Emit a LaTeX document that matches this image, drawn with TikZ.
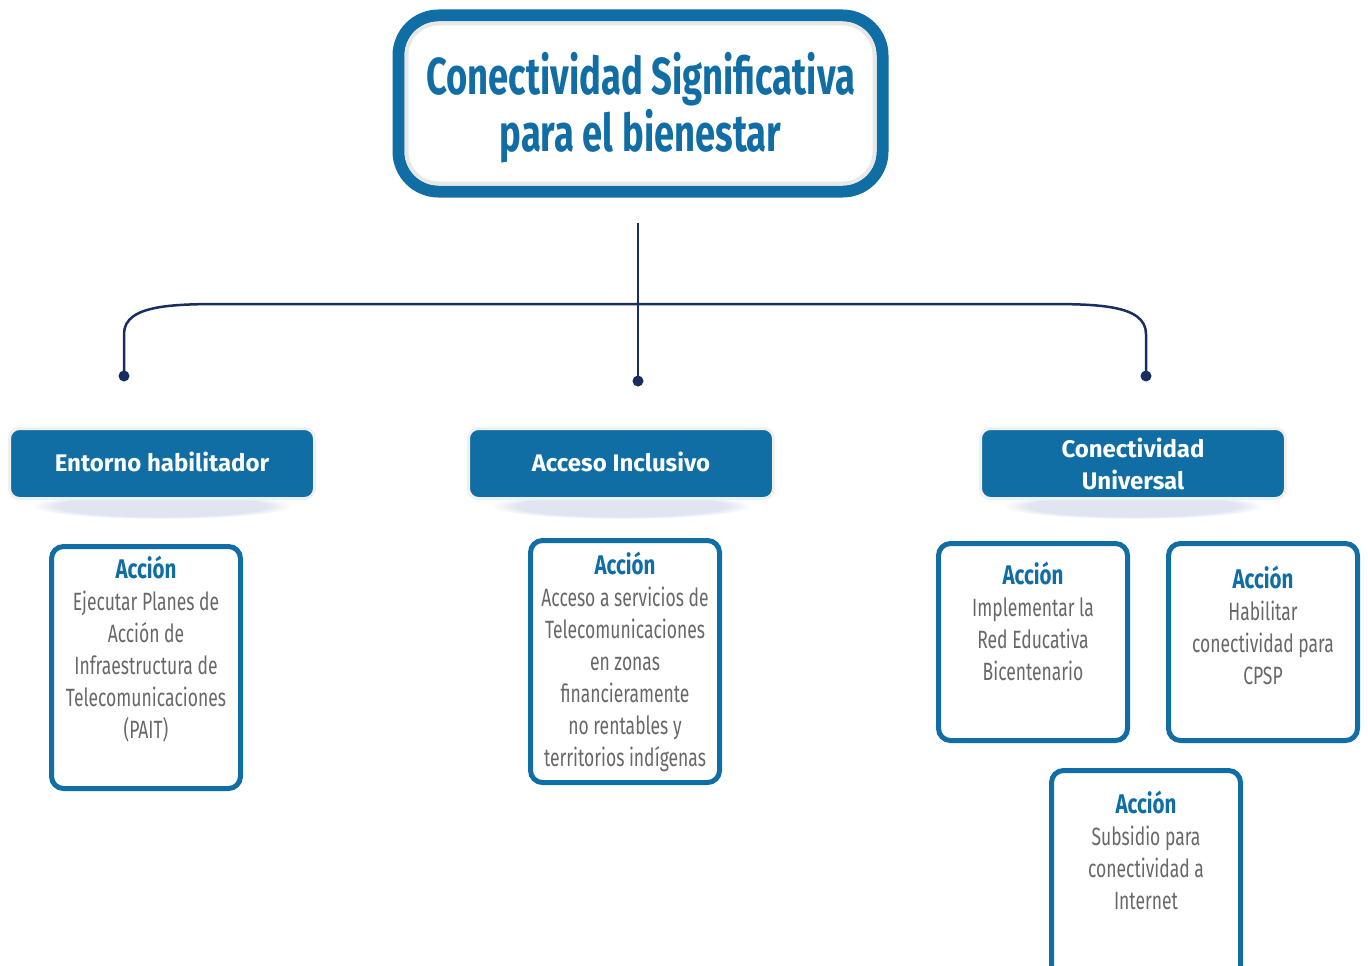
\documentclass[tikz,border=0pt]{standalone}
\usepackage{fontspec}
\setmainfont{Fira Sans}
\newfontfamily\condfont[FakeStretch=0.70]{Fira Sans}
\newfontfamily\headfont[FakeStretch=0.76]{Fira Sans}
\usepackage{tikz}
\usetikzlibrary{positioning, calc, fadings}
\definecolor{figBlue}{RGB}{16,110,165}
\definecolor{figNavy}{RGB}{24,46,96}
\definecolor{figGray}{RGB}{104,104,104}
\definecolor{figShade}{RGB}{165,180,215}
\newcommand{\acthead}{\headfont\bfseries\color{figBlue}\fontsize{27}{32}\selectfont}
\tikzset{
  titlebox/.style={draw=figBlue, line width=12pt, rounded corners=40pt, fill=white,
    minimum width=484pt, minimum height=176pt},
  titletext/.style={text=figBlue, align=center,
    font=\condfont\bfseries\fontsize{52}{57}\selectfont},
  catbox/.style={fill=figBlue, draw=gray!12, line width=3pt, rounded corners=10pt,
    minimum width=305pt, minimum height=70pt, text=white, align=center,
    font=\bfseries\fontsize{24}{32}\selectfont},
  actbox/.style={draw=figBlue, line width=5pt, rounded corners=12pt, fill=white,
    minimum width=189pt},
  acttext/.style={text=figGray, align=center, inner sep=0pt,
    font=\condfont\fontsize{25}{32}\selectfont},
  branch/.style={figNavy, line width=2.5pt},
  joint/.style={circle, fill=figNavy, inner sep=0pt, minimum size=11pt}
}
\begin{document}
\begin{tikzpicture}[x=1pt, y=-1pt]
\useasboundingbox (0,0) rectangle (1368,966);
% title
\node[titlebox] (title) at (640.5,103.5) {};
\draw[gray!18, line width=4pt, rounded corners=32pt]
  ($(title.south west)+(14,-14)$) rectangle ($(title.north east)+(-14,14)$);
\node[titletext] (titlelabel) at ($(title)+(0,4)$) {Conectividad Significativa\\para el bienestar};
% soft shadows under the pillars
\foreach \cx in {162,621,1133}
  \fill[figShade, opacity=.35, path fading=circle with fuzzy edge 20 percent]
    (\cx,506) ellipse (130pt and 13pt);
% pillars
\node[catbox, text height=22pt, text depth=7pt] (entorno) at (162,463.5) {Entorno habilitador};
\node[catbox, text height=22pt, text depth=7pt] (acceso) at (621,463.5) {Acceso Inclusivo};
\node[catbox] (universal) at (1133,463.5) {Conectividad\\Universal};
% branching connector
\node[joint] (j1) at (124,376) {};
\node[joint] (j2) at (638,381) {};
\node[joint] (j3) at (1146,376) {};
\coordinate (stem) at ($(title.south)+(-2.5,25)$);
\coordinate (hl) at (230,304);
\coordinate (hr) at (1040,304);
\draw[branch] (stem) -- (j2.center);
\draw[branch] (j1.center) -- ($(j1)+(0,-42)$) .. controls ($(j1)+(0,-72)$) and ($(hl)+(-55,0)$) .. (hl)
  -- (hr) .. controls ($(hr)+(55,0)$) and ($(j3)+(0,-72)$) .. ($(j3)+(0,-42)$) -- (j3.center);
% actions
\node[actbox, minimum height=242pt] (a1) at (146,667.5) {};
\node[actbox, minimum height=242pt] (a2) at (625,661.5) {};
\node[actbox, minimum height=197pt] (a3) at (1033,642) {};
\node[actbox, minimum height=197pt] (a4) at (1263,642) {};
\node[actbox, minimum height=250pt] (a5) at (1146,895.5) {};
\node[acttext, below=12pt of a1.north] (t1) {{\acthead Acción}\\Ejecutar Planes de\\Acción de\\Infraestructura de\\Telecomunicaciones\\(PAIT)};
\node[acttext, below=14pt of a2.north] (t2) {{\acthead Acción}\\Acceso a servicios de\\Telecomunicaciones\\en zonas\\financieramente\\no rentables y\\territorios indígenas};
\node[acttext, below=21pt of a3.north] (t3) {{\acthead Acción}\\Implementar la\\Red Educativa\\Bicentenario};
\node[acttext, below=25pt of a4.north] (t4) {{\acthead Acción}\\Habilitar\\conectividad para\\CPSP};
\node[acttext, below=23pt of a5.north] (t5) {{\acthead Acción}\\Subsidio para\\conectividad a\\Internet};
\end{tikzpicture}
\end{document}
